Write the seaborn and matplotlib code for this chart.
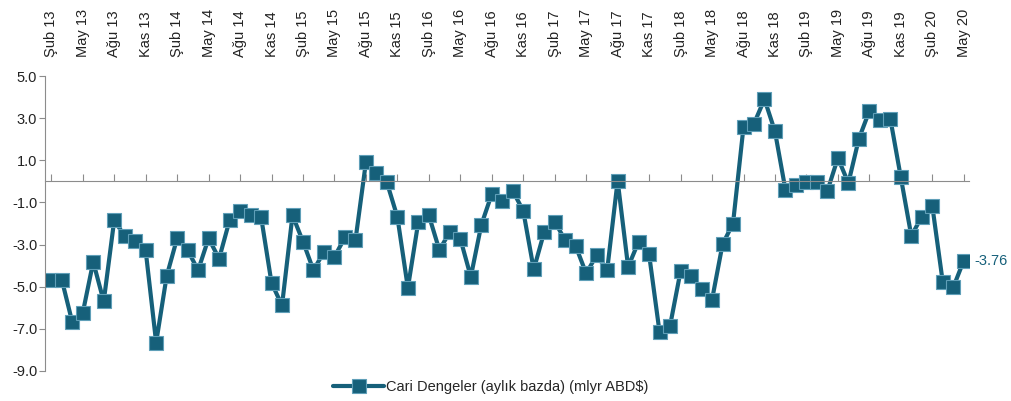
import numpy as np
import pandas as pd
import seaborn as sns
import matplotlib.pyplot as plt

sns.set_style("white")
plt.rcParams['font.family'] = ['Liberation Sans', 'DejaVu Sans']

# monthly current account balance, Feb 2013 .. May 2020 (bn USD)
months_tr = ["Oca", "Şub", "Mar", "Nis", "May", "Haz",
             "Tem", "Ağu", "Eyl", "Eki", "Kas", "Ara"]
start_year = 2013
start_month = 2  # Şubat

values = [
    -4.66, -4.66, -6.68, -6.25, -3.82, -5.70, -1.85, -2.59, -2.83, -3.28, -7.65,   # 2013
    -4.50, -2.70, -3.26, -4.22, -2.70, -3.67, -1.85, -1.43, -1.59, -1.67, -4.82, -5.89,  # 2014
    -1.61, -2.86, -4.22, -3.34, -3.58, -2.66, -2.80, 0.91, 0.40, -0.05, -1.69, -5.06,   # 2015
    -1.91, -1.61, -3.26, -2.40, -2.72, -4.53, -2.07, -0.60, -0.92, -0.45, -1.40, -4.18,  # 2016
    -2.40, -1.91, -2.80, -3.07, -4.37, -3.50, -4.22, 0.03, -4.06, -2.86, -3.47, -7.17,  # 2017
    -6.85, -4.26, -4.50, -5.09, -5.62, -2.99, -2.00, 2.58, 2.74, 3.90, 2.37, -0.40,    # 2018
    -0.16, -0.05, -0.05, -0.45, 1.11, -0.08, 2.02, 3.34, 2.90, 2.97, 0.19, -2.59,     # 2019
    -1.67, -1.16, -4.79, -5.03, -3.76,                                               # 2020
]
last_label = "-3.76"
series_name = "Cari Dengeler (aylık bazda) (mlyr ABD$)"

labels = []
for i in range(len(values)):
    m = (start_month - 1 + i) % 12
    y = start_year + (start_month - 1 + i) // 12
    labels.append("{} {:02d}".format(months_tr[m], y % 100))

df = pd.DataFrame({"idx": np.arange(len(values)), "val": values, "ay": labels})

color = "#16607a"

fig = plt.figure(figsize=(10.12, 4.01), dpi=100)
ax = fig.add_axes([45.5 / 1012, 1 - 371 / 401, (969 - 45.5) / 1012, (371 - 76) / 401])

sns.lineplot(data=df, x="idx", y="val", ax=ax, color=color, linewidth=3.0,
             marker="s", markersize=9.5, markerfacecolor=color,
             markeredgecolor="#5f9fb8", markeredgewidth=0.8, label=series_name,
             legend=False)

ax.set_xlim(-0.55, len(values) - 0.5)
ax.set_ylim(-9.0, 5.0)
ax.set_yticks(np.arange(-9, 5.1, 2))
ax.set_yticklabels(["{:.1f}".format(v) for v in np.arange(-9, 5.1, 2)])
ax.set_xlabel("")
ax.set_ylabel("")

for s in ["top", "right"]:
    ax.spines[s].set_visible(False)
ax.spines["left"].set_color("#8c8c8c")
ax.spines["bottom"].set_color("#8c8c8c")
ax.spines["bottom"].set_position(("data", 0))

ticks = df["idx"][::3]
ax.set_xticks(ticks)
ax.set_xticklabels(df["ay"][::3])
ax.tick_params(axis="x", bottom=True, top=False, labelbottom=False, labeltop=True,
               direction="in", length=5, color="#8c8c8c", labelrotation=90,
               pad=14, labelsize=10.5, labelcolor="#222222")
ax.tick_params(axis="y", left=True, direction="out", length=4, color="#8c8c8c",
               labelsize=10.5, labelcolor="#222222", pad=2)

ax.annotate(last_label, xy=(df["idx"].iloc[-1], values[-1]), xytext=(8, 0),
            textcoords="offset points", va="center", ha="left",
            color=color, fontsize=10.5)

handles, lbls = ax.get_legend_handles_labels()
fig.legend(handles, lbls, loc="lower center", bbox_to_anchor=(0.485, -0.015),
           frameon=False, fontsize=10.5, handlelength=3.5, handletextpad=0.1)

fig.savefig("out.png", dpi=100)
